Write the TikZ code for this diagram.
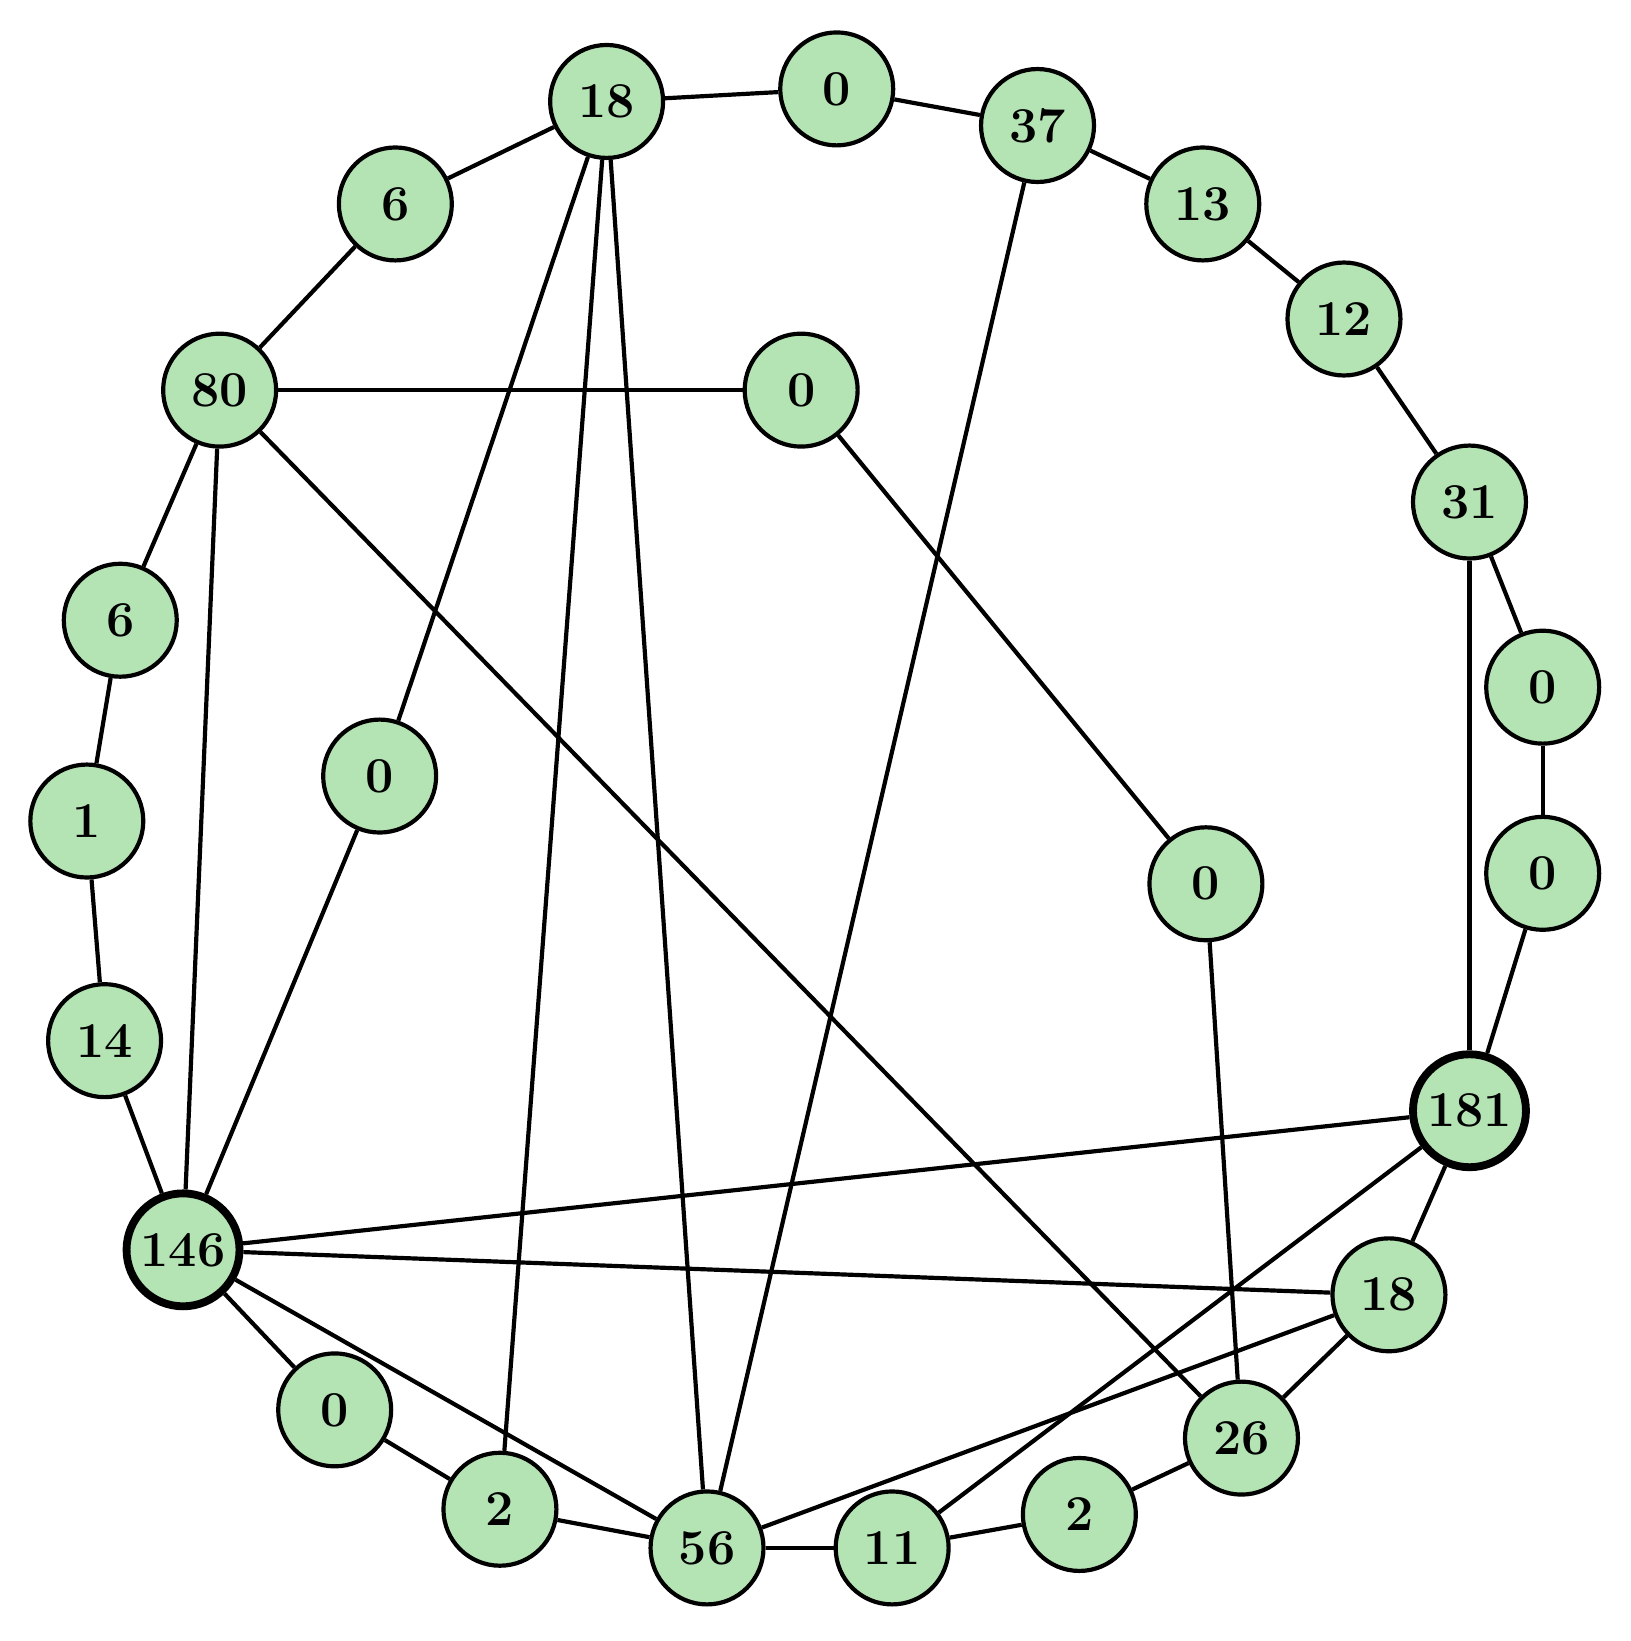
\documentclass[tikz,border=0pt]{standalone}
\begin{document}
\begin{tikzpicture}[x=1pt,y=-1pt,
 vert/.style={circle,draw,line width=4pt,fill={rgb,255:red,180;green,227;blue,180},minimum size=108pt,inner sep=0pt,font=\fontsize{48}{48}\selectfont\bfseries},
 big/.style={line width=7.5pt},
 edge/.style={line width=4pt}]
\useasboundingbox (0,0) rectangle (1559,1569);
\node[vert] (a) at (580,97) {18};
\node[vert] (b) at (800,85) {0};
\node[vert] (c) at (992,120) {37};
\node[vert] (d) at (1150,195) {13};
\node[vert] (e) at (1285,305) {12};
\node[vert] (f) at (1405,480) {31};
\node[vert] (g) at (1475,657) {0};
\node[vert] (h) at (1475,835) {0};
\node[vert,big] (i) at (1405,1062) {181};
\node[vert] (j) at (1328,1238) {18};
\node[vert] (k) at (1187,1375) {26};
\node[vert] (l) at (1032,1448) {2};
\node[vert] (m) at (853,1480) {11};
\node[vert] (n) at (676,1480) {56};
\node[vert] (o) at (478,1443) {2};
\node[vert] (p) at (320,1348) {0};
\node[vert,big] (q) at (175,1195) {146};
\node[vert] (r) at (100,995) {14};
\node[vert] (s) at (83,785) {1};
\node[vert] (t) at (115,593) {6};
\node[vert] (u) at (210,373) {80};
\node[vert] (v) at (378,195) {6};
\node[vert] (w) at (766,373) {0};
\node[vert] (x) at (363,742) {0};
\node[vert] (y) at (1153,845) {0};
\begin{scope}[on background layer/.style={}]
\foreach \s/\t in {a/b,b/c,c/d,d/e,e/f,f/g,g/h,h/i,f/i,i/j,j/k,k/l,l/m,m/n,n/o,o/p,p/q,q/r,r/s,s/t,t/u,u/v,v/a,u/w,w/y,y/k,u/k,u/q,a/x,x/q,a/o,a/n,c/n,i/q,q/j,q/n,i/m,j/n}
  \draw[edge] (\s) -- (\t);
\end{scope}
\end{tikzpicture}
\end{document}
